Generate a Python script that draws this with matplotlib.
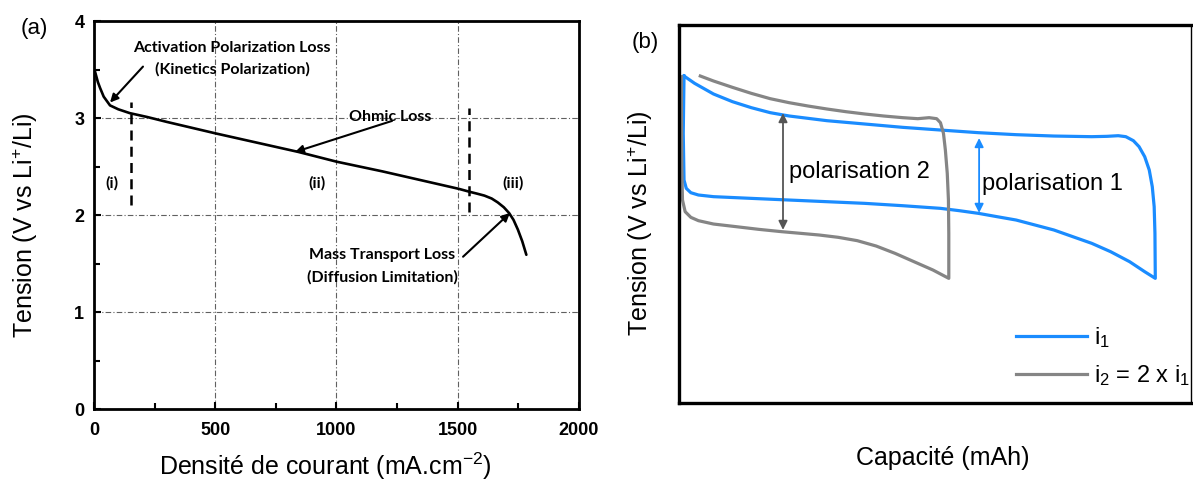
import matplotlib
matplotlib.use("Agg")
import matplotlib.pyplot as plt
from matplotlib.ticker import MultipleLocator

plt.rcParams.update({"font.family": "Liberation Sans",
                     "mathtext.fontset": "custom",
                     "mathtext.rm": "Liberation Sans",
                     "mathtext.it": "Liberation Sans:italic",
                     "mathtext.default": "regular"})

# (a) polarisation curve, current density (mA/cm2) vs voltage (V)
curr_a = [4, 16, 25, 40, 66, 100, 148, 220, 300, 504, 843, 1000, 1189, 1504, 1548,
          1580, 1610, 1640, 1665, 1690, 1712, 1730, 1748, 1766, 1783]
volt_a = [3.48, 3.37, 3.31, 3.22, 3.13, 3.09, 3.05, 3.01, 2.96, 2.84, 2.65, 2.55, 2.45,
          2.27, 2.24, 2.22, 2.20, 2.17, 2.13, 2.08, 2.02, 1.95, 1.85, 1.73, 1.59]
region_bounds = [152, 1546]
region_labels = ["(i)", "(ii)", "(iii)"]
region_x = [74, 920, 1728]

# (b) charge/discharge loops, capacity (a.u.) vs voltage (a.u.)
cap_i1 = [0.97, 3.04, 6.73, 10.43, 14.12, 17.81, 21.51, 28.89, 36.28, 43.67, 51.05, 58.44,
          65.83, 73.21, 80.60, 83.56, 85.77, 87.25, 88.73, 89.84, 90.94, 91.83, 92.42,
          92.79, 92.94, 93.01,
          90.94, 87.99, 84.29, 80.60, 76.91, 73.21, 69.52, 65.83, 62.13, 58.44, 54.75,
          51.05, 43.67, 36.28, 28.89, 21.51, 14.12, 6.73, 3.78, 2.30, 1.41, 0.97, 0.82,
          0.97]
volt_i1 = [86.51, 84.57, 81.75, 79.72, 78.13, 76.81, 75.93, 74.69, 73.81, 72.93, 72.22,
           71.52, 70.99, 70.63, 70.46, 70.55, 70.72, 70.46, 69.40, 67.81, 65.17, 61.64,
           57.23, 51.94, 44.89, 32.98,
           34.74, 37.39, 40.03, 42.24, 44.00, 45.77, 47.09, 48.41, 49.29, 50.18, 50.88,
           51.50, 52.20, 52.82, 53.26, 53.70, 54.14, 54.59, 55.03, 55.64, 56.79, 58.99,
           71.34, 86.51]
cap_i2 = [4.15, 6.73, 10.43, 14.12, 17.81, 21.51, 25.20, 28.89, 32.59, 36.28, 39.97, 43.67,
          46.62, 48.84, 50.31, 51.05, 51.64, 52.01, 52.38, 52.61, 52.68, 52.68,
          49.58, 45.88, 42.19, 38.50, 34.80, 31.11, 27.41, 23.72, 20.03, 15.60, 11.16,
          6.73, 3.78, 2.30, 1.19, 0.67, 0.53, 0.45, 0.45]
volt_i2 = [86.51, 85.19, 83.51, 81.92, 80.51, 79.45, 78.57, 77.78, 77.07, 76.46, 75.93,
           75.49, 75.22, 75.49, 75.22, 74.16, 71.34, 66.93, 60.76, 53.70, 44.89, 32.98,
           35.19, 37.39, 39.59, 41.53, 42.95, 43.83, 44.44, 44.89, 45.33, 45.94, 46.65,
           47.35, 48.24, 49.12, 50.62, 53.70, 62.52, 80.16, 86.33]
pol2 = (20.3, 76.7, 45.8)
pol1 = (58.6, 70.1, 50.3)

BLUE = "#1a8cff"; GREY = "#858585"

fig = plt.figure(figsize=(11.93, 4.83), dpi=100)

# ---------------- panel (a)
ax = fig.add_axes([0.0788, 0.1532, 0.4065, 0.8033])
ax.set_xlim(0, 2000); ax.set_ylim(0, 4)
ax.xaxis.set_major_locator(MultipleLocator(500)); ax.xaxis.set_minor_locator(MultipleLocator(250))
ax.yaxis.set_major_locator(MultipleLocator(1)); ax.yaxis.set_minor_locator(MultipleLocator(0.5))
ax.tick_params(which="both", direction="in", width=1.5, colors="black")
ax.tick_params(which="major", length=5)
ax.tick_params(which="minor", length=4)
ax.tick_params(axis="y", pad=7); ax.tick_params(axis="x", pad=9)
for lab in ax.get_xticklabels() + ax.get_yticklabels():
    lab.set_fontweight("bold"); lab.set_fontsize(13)
for sp in ax.spines.values():
    sp.set_linewidth(2.0)
ax.grid(True, which="major", color="#606060", lw=0.8, ls=(0, (5, 2, 1, 2)))

ax.plot(curr_a, volt_a, color="black", lw=1.9, solid_capstyle="round", solid_joinstyle="round")
for xb, (lo, hi) in zip(region_bounds, [(2.10, 3.16), (2.03, 3.10)]):
    ax.plot([xb, xb], [lo, hi], color="black", lw=1.8, ls=(0, (4, 2.5)))
for lab, xr in zip(region_labels, region_x):
    ax.text(xr, 2.33, lab, ha="center", va="center", fontsize=11.5,
            family="Lato", fontweight="bold")

akw = dict(arrowstyle="-|>", color="black", lw=1.5, mutation_scale=12, shrinkA=0, shrinkB=0)
tkw = dict(ha="center", va="center", fontsize=11.5, family="Lato", fontweight="bold")
ax.text(569, 3.72, "Activation Polarization Loss", **tkw)
ax.text(569, 3.50, "(Kinetics Polarization)", **tkw)
ax.annotate("", xy=(66, 3.16), xytext=(202, 3.53), arrowprops=akw)
ax.text(1222, 3.01, "Ohmic Loss", **tkw)
ax.annotate("", xy=(829, 2.65), xytext=(1229, 2.97), arrowprops=akw)
ax.text(1188, 1.59, "Mass Transport Loss", **tkw)
ax.text(1188, 1.36, "(Diffusion Limitation)", **tkw)
ax.annotate("", xy=(1715, 2.02), xytext=(1522, 1.57), arrowprops=akw)

fig.text(0.0210, 0.533, "Tension (V vs Li$^{+}$/Li)", rotation=90, ha="center", va="center", fontsize=18)
fig.text(0.273, 0.035, "Densité de courant (mA.cm$^{-2}$)", ha="center", va="center", fontsize=18)
fig.text(0.029, 0.942, "(a)", ha="center", va="center", fontsize=16)

# ---------------- panel (b)
bx = fig.add_axes([0.5692, 0.1656, 0.4292, 0.7826])
bx.set_xlim(0, 100); bx.set_ylim(0, 100)
bx.set_xticks([]); bx.set_yticks([])
for side in ["left", "top", "bottom"]:
    bx.spines[side].set_linewidth(2.4)
bx.spines["right"].set_linewidth(1.0)

bx.plot(cap_i1, volt_i1, color=BLUE, lw=2.3, solid_joinstyle="round", label="i$_1$")
bx.plot(cap_i2, volt_i2, color=GREY, lw=2.3, solid_joinstyle="round", label="i$_2$ = 2 x i$_1$")

bx.annotate("", xy=(pol2[0], pol2[2]), xytext=(pol2[0], pol2[1]),
            arrowprops=dict(arrowstyle="<|-|>", color="#555555", lw=1.3, mutation_scale=13,
                            shrinkA=0, shrinkB=0))
bx.annotate("", xy=(pol1[0], pol1[2]), xytext=(pol1[0], pol1[1]),
            arrowprops=dict(arrowstyle="<|-|>", color=BLUE, lw=1.3, mutation_scale=13,
                            shrinkA=0, shrinkB=0))
bx.text(21.5, 61.1, "polarisation 2", ha="left", va="center", fontsize=17)
bx.text(59.2, 57.9, "polarisation 1", ha="left", va="center", fontsize=17)

bx.legend(loc="lower left", bbox_to_anchor=(0.658, 0.039), frameon=False, fontsize=17,
          handlelength=3.0, handletextpad=0.3, labelspacing=0.55, borderpad=0,
          borderaxespad=0)

fig.text(0.5365, 0.538, "Tension (V vs Li$^{+}$/Li)", rotation=90, ha="center", va="center", fontsize=18)
fig.text(0.790, 0.052, "Capacité (mAh)", ha="center", va="center", fontsize=18)
fig.text(0.5405, 0.913, "(b)", ha="center", va="center", fontsize=16)

fig.savefig("out.png", dpi=100)
